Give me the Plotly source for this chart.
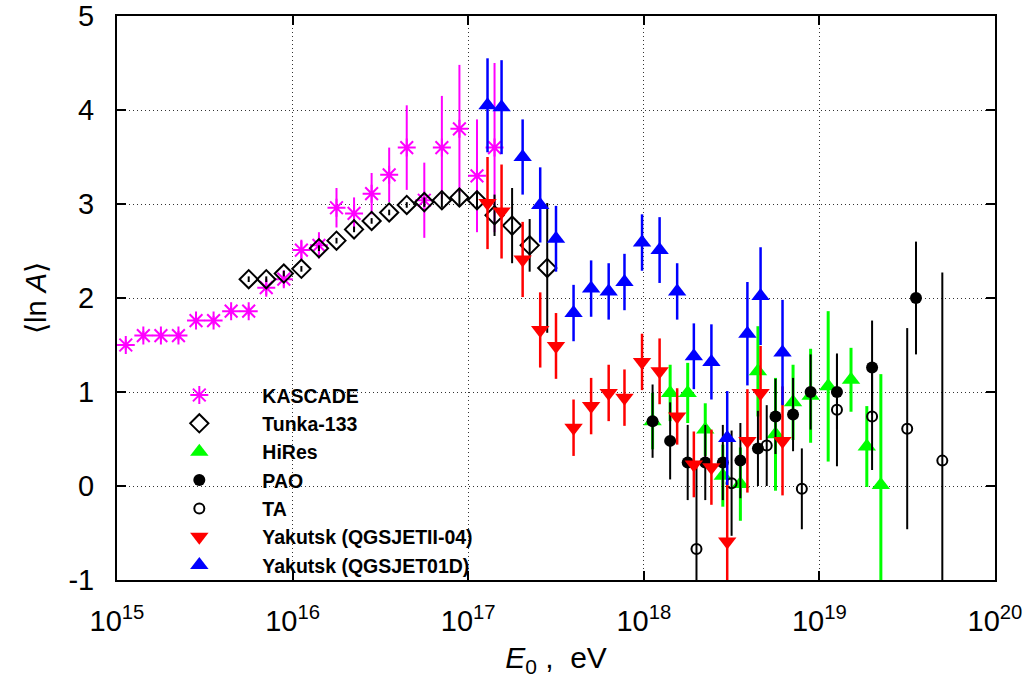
import plotly.graph_objects as go

# ---------------- data (log10 E0 [eV], <ln A>, error) ----------------
kascade_lgE = [15.05, 15.15, 15.25, 15.35, 15.45, 15.55, 15.65, 15.75, 15.85, 15.95, 16.05,
               16.15, 16.25, 16.35, 16.45, 16.55, 16.65, 16.75, 16.85, 16.95, 17.05, 17.15]
kascade_lnA = [1.50, 1.60, 1.60, 1.60, 1.76, 1.76, 1.86, 1.86, 2.11, 2.20, 2.51,
               2.56, 2.96, 2.90, 3.11, 3.31, 3.60, 3.04, 3.60, 3.80, 3.30, 3.60]
kascade_err = [0.05, 0.05, 0.05, 0.05, 0.05, 0.05, 0.05, 0.05, 0.08, 0.08, 0.11,
               0.14, 0.21, 0.17, 0.22, 0.29, 0.45, 0.40, 0.55, 0.68, 0.60, 0.90]

tunka_lgE = [15.75, 15.85, 15.95, 16.05, 16.15, 16.25, 16.35, 16.45, 16.55, 16.65,
             16.75, 16.85, 16.95, 17.05, 17.15, 17.25, 17.35, 17.45]
tunka_lnA = [2.20, 2.20, 2.26, 2.31, 2.53, 2.61, 2.73, 2.82, 2.91, 2.99,
             3.02, 3.04, 3.07, 3.04, 2.88, 2.77, 2.56, 2.32]
tunka_err = [0.03, 0.03, 0.03, 0.03, 0.03, 0.03, 0.03, 0.03, 0.03, 0.03,
             0.05, 0.08, 0.08, 0.09, 0.22, 0.40, 0.28, 0.69]

hires_lgE = [18.05, 18.15, 18.25, 18.35, 18.45, 18.55, 18.65, 18.75, 18.85, 18.95,
             19.05, 19.18, 19.27, 19.35]
hires_lnA = [0.69, 0.99, 0.99, 0.60, 0.11, 0.02, 1.22, 0.55, 0.89, 0.96,
             1.06, 1.13, 0.42, 0.01]
hires_err = [0.30, 0.30, 0.32, 0.28, 0.33, 0.39, 0.48, 0.60, 0.40, 0.50,
             0.80, 0.34, 0.43, 1.18]

pao_lgE = [18.05, 18.15, 18.25, 18.35, 18.45, 18.55, 18.65, 18.75, 18.85, 18.95,
           19.10, 19.30, 19.55]
pao_lnA = [0.69, 0.48, 0.25, 0.25, 0.25, 0.27, 0.40, 0.74, 0.76, 1.00,
           1.00, 1.26, 2.00]
pao_err = [0.39, 0.41, 0.40, 0.40, 0.40, 0.40, 0.40, 0.40, 0.39, 0.40,
           0.40, 0.50, 0.60]

ta_lgE = [18.30, 18.50, 18.70, 18.90, 19.10, 19.30, 19.50, 19.70]
ta_lnA = [-0.67, 0.03, 0.43, -0.03, 0.81, 0.74, 0.61, 0.27]
ta_err = [0.90, 0.56, 0.43, 0.43, 0.60, 0.57, 1.07, 2.00]

yak_lgE = [17.11, 17.19, 17.31, 17.41, 17.50, 17.60, 17.70, 17.80, 17.89, 17.99,
           18.09, 18.19, 18.285, 18.385, 18.475, 18.59, 18.665, 18.79]
yak2_lnA = [3.01, 2.92, 2.41, 1.66, 1.49, 0.62, 0.85, 0.99, 0.94, 1.32,
            1.22, 0.74, 0.23, 0.20, -0.59, 0.48, 0.99, 0.48]
yak2_err = [0.49, 0.50, 0.40, 0.40, 0.35, 0.30, 0.30, 0.30, 0.30, 0.30,
            0.35, 0.30, 0.35, 0.40, 0.65, 0.55, 0.50, 0.58]
yak1_lnA = [4.05, 4.03, 3.50, 2.99, 2.63, 1.84, 2.10, 2.07, 2.17, 2.59,
            2.51, 2.07, 1.38, 1.32, 0.51, 1.62, 2.02, 1.42]
yak1_err = [0.50, 0.50, 0.40, 0.40, 0.35, 0.30, 0.30, 0.30, 0.30, 0.30,
            0.35, 0.30, 0.35, 0.40, 0.50, 0.55, 0.52, 0.56]

x_tick_exps = [15, 16, 17, 18, 19, 20]
y_ticks = [-1, 0, 1, 2, 3, 4, 5]

FONT = "Liberation Sans, Arial, Helvetica, sans-serif"


def E(lg):
    return [10.0 ** v for v in lg]


def series(name, lg, y, err, symbol, color, size, lw, ecolor, ethick):
    return go.Scatter(
        x=E(lg), y=y, name=name, mode="markers",
        marker=dict(symbol=symbol, color=color, size=size,
                    line=dict(color=color, width=lw)),
        error_y=dict(type="data", array=err, visible=True, width=0,
                     color=ecolor, thickness=ethick),
    )


fig = go.Figure()
fig.add_trace(series("KASCADE", kascade_lgE, kascade_lnA, kascade_err,
                     "asterisk-open", "#ff00ff", 15, 2, "#ff00ff", 2))
fig.add_trace(series("Tunka-133", tunka_lgE, tunka_lnA, tunka_err,
                     "diamond-open", "black", 14, 2, "black", 2))
fig.add_trace(series("HiRes", hires_lgE, hires_lnA, hires_err,
                     "triangle-up", "#00ff00", 16, 0, "#00ff00", 3))
fig.add_trace(series("PAO", pao_lgE, pao_lnA, pao_err,
                     "circle", "black", 12, 0, "black", 2))
fig.add_trace(series("TA", ta_lgE, ta_lnA, ta_err,
                     "circle-open", "black", 10, 2, "black", 2))
fig.add_trace(series("Yakutsk (QGSJETII-04)", yak_lgE, yak2_lnA, yak2_err,
                     "triangle-down", "#ff0000", 16, 0, "#ff0000", 2.5))
fig.add_trace(series("Yakutsk (QGSJET01D)", yak_lgE, yak1_lnA, yak1_err,
                     "triangle-up", "#0000ff", 16, 0, "#0000ff", 2.5))

# opaque key box: hides gridlines but stays under the data
fig.add_shape(type="rect", xref="paper", yref="paper", x0=0, x1=0.63, y0=0, y1=0.358,
              fillcolor="white", line=dict(width=0), layer="between")

axis_common = dict(
    showline=True, linecolor="black", linewidth=2, mirror="allticks",
    ticks="inside", ticklen=9, tickwidth=1.5, tickcolor="black",
    showgrid=True, gridcolor="#333333", gridwidth=1, griddash="1px,3px",
    zeroline=False, ticklabeloverflow="allow",
    tickfont=dict(family=FONT, size=29, color="black"),
)

fig.update_xaxes(
    type="log", range=[15, 20],
    tickvals=[10.0 ** e for e in x_tick_exps],
    ticktext=[f"10<sup>{e}</sup>" for e in x_tick_exps],
    ticklabelstandoff=14,
    title=dict(text="<i>E</i><sub>0</sub> ,  eV", font=dict(family=FONT, size=30, color="black"),
               standoff=11),
    **axis_common,
)
fig.update_yaxes(
    range=[-1, 5], tickvals=y_ticks, ticktext=[str(v) for v in y_ticks],
    ticklabelstandoff=15,
    title=dict(text="⟨ln <i>A</i>⟩", font=dict(family=FONT, size=29, color="black"),
               standoff=13),
    **axis_common,
)

fig.update_layout(
    width=1031, height=681,
    margin=dict(l=117, r=36, t=16, b=101, autoexpand=False),
    paper_bgcolor="white", plot_bgcolor="white",
    font=dict(family=FONT, color="black"),
    showlegend=True,
    legend=dict(x=0.022, y=0.362, xanchor="left", yanchor="top",
                bgcolor="rgba(0,0,0,0)", borderwidth=0, itemwidth=116,
                font=dict(family=FONT, size=19.5, color="black", weight="bold"),
                tracegroupgap=0),
)

# remove the default 8 px page margin so the figure fills the window exactly
fig.write_html("out.html", config={"displayModeBar": False},
               post_script="document.body.style.margin='0px';")
